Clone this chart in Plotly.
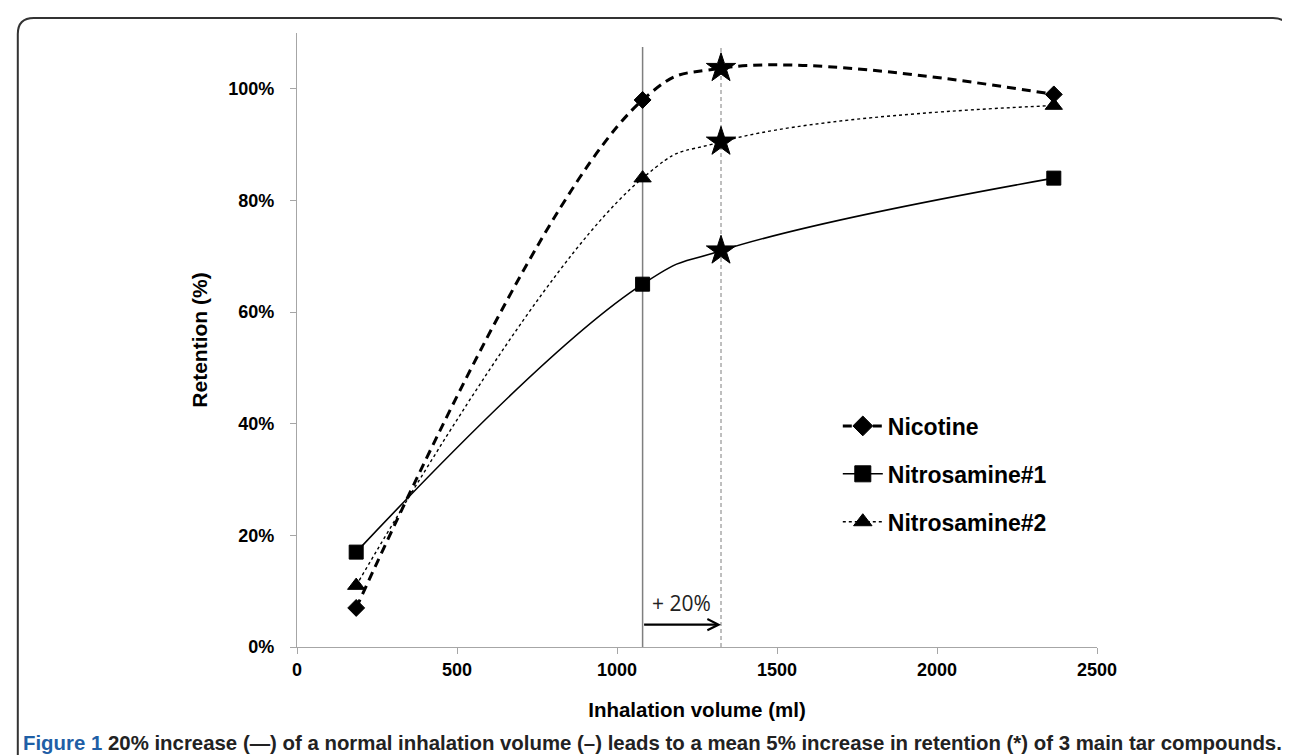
import plotly.graph_objects as go

# ---- data ----
volume = [185, 1080, 1325, 2365]
nicotine = [0.07, 0.98, 1.037, 0.99]
nitro1 = [0.17, 0.65, 0.71, 0.84]
nitro2 = [0.11, 0.84, 0.905, 0.97]
normal_volume = 1080
increased_volume = 1325
x_ticks = [0, 500, 1000, 1500, 2000, 2500]
y_ticks = [0, 0.2, 0.4, 0.6, 0.8, 1.0]
y_tick_text = ["0%", "20%", "40%", "60%", "80%", "100%"]

FONT = "Arial, Liberation Sans, sans-serif"

fig = go.Figure()

# vertical reference lines
fig.add_trace(go.Scatter(x=[normal_volume, normal_volume], y=[0, 1.075], mode="lines",
                         line=dict(color="#7f7f7f", width=1.5), showlegend=False, hoverinfo="skip"))
fig.add_trace(go.Scatter(x=[increased_volume, increased_volume], y=[0, 1.075], mode="lines",
                         line=dict(color="#7f7f7f", width=1, dash="4px,3px"), showlegend=False, hoverinfo="skip"))

def series(name, ys, dash, width, sym, msize, group, smooth):
    fig.add_trace(go.Scatter(
        x=volume, y=ys, name=name, mode="lines+markers", legendgroup=group,
        line=dict(color="black", width=width, dash=dash, shape="spline", smoothing=smooth),
        marker=dict(color="black", opacity=1, symbol=[sym, sym, "star", sym],
                    size=[msize, msize, 22, msize], line=dict(width=1, color="black")),
    ))

series("Nicotine", nicotine, "9px,6px", 3, "diamond", 13, "a", 1.2)
series("Nitrosamine#1", nitro1, "solid", 1.6, "square", 14, "b", 1.3)
series("Nitrosamine#2", nitro2, "dot", 1.4, "triangle-up", 15, "c", 1.3)

# arrow and +20% label
fig.add_annotation(x=increased_volume, y=0.04, ax=normal_volume, ay=0.04,
                   xref="x", yref="y", axref="x", ayref="y", text="",
                   showarrow=True, arrowhead=5, arrowsize=1, arrowwidth=2.2, arrowcolor="black")
fig.add_annotation(x=(normal_volume + increased_volume) / 2, y=0.078, xref="x", yref="y",
                   text="+ 20%", showarrow=False,
                   font=dict(family="Open Sans, DejaVu Sans, sans-serif", size=21, color="#222"))

# caption
fig.add_annotation(x=-0.345, y=-0.157, xref="paper", yref="paper", xanchor="left", yanchor="middle",
                   showarrow=False,
                   text="<b><span style='color:#1f5fa6'>Figure 1</span> 20% increase (—) of a normal inhalation volume (–) leads to a mean 5% increase in retention (*) of 3 main tar compounds.</b>",
                   font=dict(family="Arial, Liberation Sans, sans-serif", size=20.4, color="#222"))

# rounded frame
x0, x1 = -0.349, 1.24
y0, y1 = -0.25, 1.0245
r = 0.02
ry = r * 800 / 614
fig.add_shape(type="path", xref="paper", yref="paper",
              path=f"M {x0},{y0} L {x0},{y1 - ry} Q {x0},{y1} {x0 + r},{y1} L {x1 - r},{y1} Q {x1},{y1} {x1},{y1 - ry} L {x1},{y0}",
              line=dict(color="#333", width=2))

fig.update_layout(
    width=1290, height=755,
    margin=dict(l=289, r=201, t=25, b=116),
    paper_bgcolor="white", plot_bgcolor="white",
    font=dict(family=FONT, color="black"),
    legend=dict(x=0.676, y=0.395, xanchor="left", yanchor="top",
                font=dict(family=FONT, size=23, color="black", weight="bold"),
                bgcolor="rgba(0,0,0,0)", tracegroupgap=15, traceorder="grouped",
                itemwidth=40),
    xaxis=dict(range=[0, 2500], tickvals=x_ticks, showgrid=False, zeroline=False,
               showline=True, linecolor="#a6a6a6", linewidth=1.2,
               ticks="outside", ticklen=6, tickcolor="#a6a6a6",
               tickfont=dict(size=18, weight="bold", family=FONT),
               title=dict(text="Inhalation volume (ml)", standoff=23,
                          font=dict(size=20.5, weight="bold", family=FONT))),
    yaxis=dict(range=[0, 1.1], tickvals=y_ticks, ticktext=y_tick_text, showgrid=False,
               zeroline=False, showline=True, linecolor="#a6a6a6", linewidth=1.2,
               ticks="outside", ticklen=6, tickcolor="#a6a6a6", ticklabelstandoff=12,
               tickfont=dict(size=18, weight="bold", family=FONT),
               title=dict(text="Retention (%)", standoff=14,
                          font=dict(size=21, weight="bold", family=FONT))),
)

fig.write_html("out.html")
